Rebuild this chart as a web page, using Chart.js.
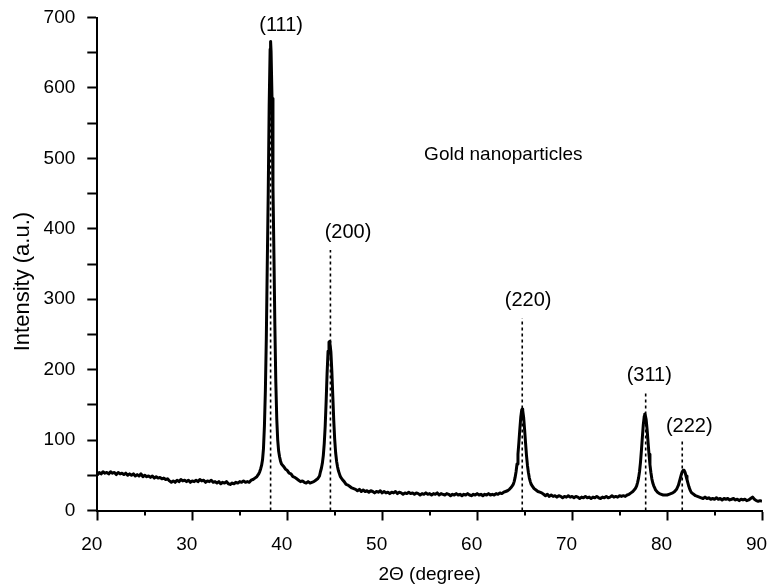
<!DOCTYPE html>
<html>
<head>
<meta charset="utf-8">
<script src="https://cdn.jsdelivr.net/npm/chart.js@4.4.1/dist/chart.umd.min.js"></script>
<style>
  html, body { margin: 0; padding: 0; background: #fff; }
  #wrap { width: 770px; height: 588px; }
</style>
</head>
<body>
<div id="wrap"><canvas id="xrd" width="770" height="588"></canvas></div>
<script>
// XRD scan of the gold nanoparticles: [2theta, intensity]
const scan = [
  [20.0, 50], [20.2, 54], [20.4, 52], [20.6, 55], [20.8, 53], [21.0, 54], [21.2, 52], [21.4, 55], [21.6, 53], [21.8, 54],
  [22.0, 51], [22.2, 54], [22.4, 52], [22.6, 53], [22.8, 51], [23.0, 53], [23.2, 50], [23.4, 52], [23.6, 50], [23.8, 52],
  [24.0, 49], [24.2, 51], [24.4, 49], [24.6, 52], [24.8, 48], [25.0, 50], [25.2, 48], [25.4, 49], [25.6, 47], [25.8, 49],
  [26.0, 46], [26.2, 48], [26.4, 46], [26.6, 47], [26.8, 45], [27.0, 46], [27.2, 44], [27.4, 45], [27.6, 42], [27.8, 40],
  [28.0, 42], [28.2, 40], [28.4, 43], [28.6, 41], [28.8, 44], [29.0, 42], [29.2, 43], [29.4, 41], [29.6, 43], [29.8, 40],
  [30.0, 42], [30.2, 41], [30.4, 43], [30.6, 41], [30.8, 44], [31.0, 42], [31.2, 43], [31.4, 40], [31.6, 42], [31.8, 41],
  [32.0, 43], [32.2, 40], [32.4, 41], [32.6, 39], [32.8, 41], [33.0, 38], [33.2, 40], [33.4, 39], [33.6, 41], [33.8, 38],
  [34.0, 37], [34.2, 39], [34.4, 38], [34.6, 40], [34.8, 39], [35.0, 41], [35.2, 40], [35.4, 42], [35.6, 40], [35.8, 41],
  [36.0, 40], [36.2, 43], [36.4, 44], [36.6, 46], [36.8, 48], [37.0, 52], [37.1, 55], [37.2, 59], [37.3, 64], [37.4, 72],
  [37.5, 88], [37.6, 120], [37.7, 170], [37.8, 245], [37.9, 350], [38.0, 450], [38.1, 575], [38.2, 655], [38.25, 666],
  [38.3, 652], [38.4, 585], [38.5, 460], [38.6, 365], [38.7, 262], [38.8, 182], [38.9, 130], [39.0, 100], [39.1, 84],
  [39.2, 76], [39.3, 70], [39.4, 66], [39.6, 63], [39.8, 59], [40.0, 57], [40.2, 53], [40.4, 52], [40.6, 48], [40.8, 47],
  [41.0, 45], [41.2, 43], [41.4, 41], [41.6, 42], [41.8, 40], [42.0, 39], [42.2, 41], [42.4, 39], [42.6, 40], [42.8, 41],
  [43.0, 43], [43.2, 45], [43.4, 49], [43.5, 55], [43.6, 60], [43.7, 67], [43.8, 78], [43.9, 95], [44.0, 120], [44.1, 155],
  [44.2, 195], [44.3, 226], [44.4, 239], [44.45, 240], [44.5, 237], [44.6, 225], [44.7, 198], [44.8, 163], [44.9, 128],
  [45.0, 101], [45.1, 82], [45.2, 70], [45.3, 62], [45.4, 56], [45.5, 52], [45.6, 48], [45.8, 44], [46.0, 41], [46.2, 37],
  [46.4, 36], [46.6, 34], [46.8, 32], [47.0, 31],
  [47.2, 30], [47.4, 28], [47.6, 30], [47.8, 27], [48.0, 29], [48.2, 27], [48.4, 28], [48.6, 26], [48.8, 28], [49.0, 27],
  [49.2, 25], [49.4, 27], [49.6, 26], [49.8, 28], [50.0, 25], [50.2, 27], [50.4, 25], [50.6, 26], [50.8, 24], [51.0, 26],
  [51.2, 25], [51.4, 27], [51.6, 24], [51.8, 26], [52.0, 25], [52.2, 23], [52.4, 25], [52.6, 24], [52.8, 26], [53.0, 24],
  [53.2, 25], [53.4, 23], [53.6, 25], [53.8, 24], [54.0, 22], [54.2, 24], [54.4, 23], [54.6, 25], [54.8, 23], [55.0, 24],
  [55.2, 22], [55.4, 24], [55.6, 23], [55.8, 25], [56.0, 22], [56.2, 24], [56.4, 23], [56.6, 22], [56.8, 24], [57.0, 23],
  [57.2, 21], [57.4, 23], [57.6, 22], [57.8, 24], [58.0, 22], [58.2, 23], [58.4, 21], [58.6, 23], [58.8, 22], [59.0, 24],
  [59.2, 22], [59.4, 21], [59.6, 23], [59.8, 22], [60.0, 24], [60.2, 22], [60.4, 23], [60.6, 21], [60.8, 23], [61.0, 22],
  [61.2, 24], [61.4, 22], [61.6, 23], [61.8, 22], [62.0, 24], [62.2, 23], [62.4, 25], [62.6, 24], [62.8, 26], [63.0, 27],
  [63.2, 28], [63.4, 30], [63.6, 33], [63.7, 35], [63.8, 37], [63.9, 41], [64.0, 47], [64.1, 55], [64.2, 66], [64.3, 80],
  [64.4, 97], [64.5, 116], [64.6, 133], [64.7, 143], [64.75, 144], [64.8, 142], [64.9, 132], [65.0, 115], [65.1, 96],
  [65.2, 78], [65.3, 64], [65.4, 54], [65.5, 46], [65.6, 41], [65.7, 37], [65.8, 35], [66.0, 31], [66.2, 29], [66.4, 27],
  [66.6, 26], [66.8, 25], [67.0, 23],
  [67.2, 21], [67.4, 23], [67.6, 20], [67.8, 22], [68.0, 20], [68.2, 21], [68.4, 19], [68.6, 21], [68.8, 20], [69.0, 18],
  [69.2, 20], [69.4, 19], [69.6, 21], [69.8, 19], [70.0, 20], [70.2, 18], [70.4, 20], [70.6, 19], [70.8, 17], [71.0, 19],
  [71.2, 18], [71.4, 20], [71.6, 18], [71.8, 19], [72.0, 17], [72.2, 19], [72.4, 18], [72.6, 20], [72.8, 18], [73.0, 17],
  [73.2, 19], [73.4, 18], [73.6, 20], [73.8, 18], [74.0, 19], [74.2, 21], [74.4, 19], [74.6, 20], [74.8, 19], [75.0, 21],
  [75.2, 20], [75.4, 21], [75.6, 20], [75.8, 22], [76.0, 23], [76.2, 25], [76.4, 27], [76.6, 30],
  [76.7, 32], [76.8, 35], [76.9, 40], [77.0, 46], [77.1, 55], [77.2, 68], [77.3, 85], [77.4, 104], [77.5, 122],
  [77.6, 134], [77.65, 137], [77.7, 136], [77.8, 129], [77.9, 115], [78.0, 97], [78.1, 80], [78.2, 65], [78.3, 54],
  [78.4, 45], [78.5, 39], [78.6, 35], [78.7, 32], [78.8, 29], [79.0, 26], [79.2, 24], [79.4, 23], [79.6, 22], [79.8, 22],
  [80.0, 22], [80.2, 23], [80.4, 24], [80.6, 25], [80.8, 27], [81.0, 30],
  [81.1, 33], [81.2, 36], [81.3, 41], [81.4, 46], [81.5, 51], [81.6, 55], [81.7, 57], [81.8, 57], [81.9, 54], [82.0, 49],
  [82.1, 44], [82.2, 39], [82.3, 34], [82.4, 30], [82.5, 27], [82.6, 25], [82.8, 23], [83.0, 21], [83.2, 20], [83.4, 19],
  [83.6, 18], [83.8, 17], [84.0, 19], [84.2, 17], [84.4, 18], [84.6, 16], [84.8, 17], [85.0, 16], [85.2, 18], [85.4, 16],
  [85.6, 17], [85.8, 15], [86.0, 17], [86.2, 16], [86.4, 17], [86.6, 15], [86.8, 16], [87.0, 17], [87.2, 15], [87.4, 16],
  [87.6, 14], [87.8, 16], [88.0, 15], [88.2, 16], [88.4, 14], [88.6, 15], [88.8, 17], [89.0, 19], [89.2, 16], [89.4, 14],
  [89.6, 13], [89.8, 14], [90.0, 13]
];

// reflections: name, dotted marker position/height, label position
const peakNames = ['(111)', '(200)', '(220)', '(311)', '(222)'];
const peakPos = [38.25, 44.55, 64.75, 77.75, 81.6];
const peakLineTop = [640, 370, 273, 166, 99];
const labelX = [39.36, 46.4, 65.37, 78.13, 82.34];
const labelY = [688, 395, 298, 192, 120];

const sampleName = 'Gold nanoparticles';
const sampleAt = [62.76, 505];

const xMinorTicks = [25, 35, 45, 55, 65, 75, 85];
const yTitle = 'Intensity (a.u.)';

const FONT = '"Liberation Sans", Arial, sans-serif';

const markerSets = peakPos.map((p, i) => ({
  data: [{ x: p, y: 0 }, { x: p, y: peakLineTop[i] }],
  borderColor: '#000',
  borderWidth: 1.6,
  borderDash: [3, 3],
  pointRadius: 0,
  order: 1
}));

const annotations = {
  id: 'annotations',
  afterDatasetsDraw(chart) {
    const { ctx, scales: { x, y }, chartArea } = chart;
    ctx.save();
    ctx.fillStyle = '#000';
    ctx.textAlign = 'center';
    ctx.textBaseline = 'middle';
    ctx.font = '20px ' + FONT;
    peakNames.forEach((t, i) => {
      ctx.fillText(t, x.getPixelForValue(labelX[i]), y.getPixelForValue(labelY[i]));
    });
    ctx.font = '19px ' + FONT;
    ctx.fillText(sampleName, x.getPixelForValue(sampleAt[0]), y.getPixelForValue(sampleAt[1]));

    // short minor ticks on the 2theta axis
    ctx.strokeStyle = '#000';
    ctx.lineWidth = 2;
    xMinorTicks.forEach(v => {
      const px = Math.round(x.getPixelForValue(v));
      ctx.beginPath();
      ctx.moveTo(px, chartArea.bottom);
      ctx.lineTo(px, chartArea.bottom + 5);
      ctx.stroke();
    });

    // intensity title sits a little below the axis middle in the original
    ctx.translate(22.5, y.getPixelForValue(325));
    ctx.rotate(-Math.PI / 2);
    ctx.font = '22px ' + FONT;
    ctx.fillText(yTitle, 0, 0);
    ctx.restore();
  }
};

Chart.defaults.font.family = FONT;
Chart.defaults.color = '#000';

new Chart(document.getElementById('xrd'), {
  type: 'line',
  data: {
    datasets: [{
      data: scan.map(p => ({ x: p[0], y: p[1] })),
      borderColor: '#000',
      borderWidth: 3,
      borderJoinStyle: 'round',
      pointRadius: 0,
      tension: 0,
      order: 0
    }, ...markerSets]
  },
  options: {
    responsive: false,
    animation: false,
    devicePixelRatio: 1,
    layout: { padding: 0 },
    plugins: { legend: { display: false }, tooltip: { enabled: false } },
    scales: {
      x: {
        type: 'linear',
        min: 20,
        max: 90,
        border: { color: '#000', width: 2 },
        grid: { drawOnChartArea: false, tickLength: 10, tickWidth: 2, tickColor: '#000' },
        ticks: { stepSize: 10, padding: 13, labelOffset: -5.5, maxRotation: 0, color: '#000', font: { size: 19 } },
        title: { display: true, text: '2Θ (degree)', color: '#000', font: { size: 19 }, padding: { top: 0, bottom: 2 } },
        afterFit(scale) {
          scale.height = 77.5;
          scale.paddingRight = 8;
        }
      },
      y: {
        min: 0,
        max: 700,
        border: { color: '#000', width: 2 },
        grid: { drawOnChartArea: false, tickLength: 10, tickWidth: 2, tickColor: '#000' },
        ticks: {
          stepSize: 50,
          padding: 12,
          color: '#000',
          font: { size: 19 },
          callback: v => (v % 100 === 0 ? v : '')
        },
        afterFit(scale) {
          scale.width = 97.3;
          scale.paddingTop = 17.5;
          scale.paddingBottom = 0;
        }
      }
    }
  },
  plugins: [annotations]
});
</script>
</body>
</html>
